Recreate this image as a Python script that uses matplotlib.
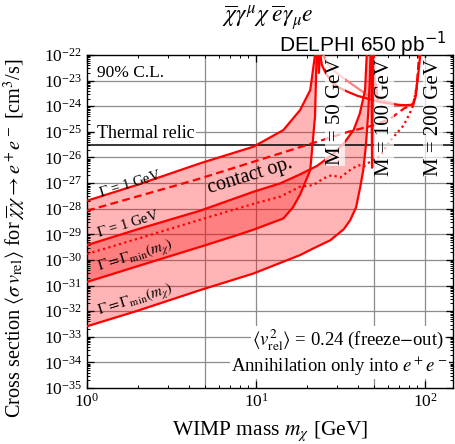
import numpy as np
import matplotlib
matplotlib.use("Agg")
import matplotlib.pyplot as plt

# -----------------------------
#  Limits on <sigma v> (log10 of cm^3/s) vs WIMP mass (GeV)
# -----------------------------
# M = 50 GeV mediator, Gamma = 1 GeV
m50_g1 = [1, 2, 4.66, 9.64, 14.5, 18.2, 20.9, 22.3]
s50_g1 = [-27.69, -27.06, -26.23, -25.58, -24.93, -24.15, -23.37, -22.0]

# M = 50 GeV mediator, Gamma = Gamma_min
m50_gmin = [1, 2, 4.66, 7.5, 9.64, 14.5, 16.5, 18.2, 20.9, 22.3, 22.8]
s50_gmin = [-30.86, -30.24, -29.49, -29.06, -28.82, -28.38, -27.95, -27.45, -26.49, -24.41, -22.0]

# M = 100 GeV mediator, Gamma = 1 GeV
m100_g1 = [1, 2, 4.66, 9.64, 13.9, 18.2, 22.9, 28.6, 33, 37.7, 41, 44.1, 45.1]
s100_g1 = [-29.42, -28.8, -28.08, -27.34, -27.01, -26.66, -26.33, -25.86, -25.45, -24.93, -24.3, -23.37, -22.0]

# M = 100 GeV mediator, Gamma = Gamma_min
m100_gmin = [1, 2, 4.66, 9.64, 18.2, 21.8, 27.5, 33, 36, 39, 41.3, 43, 44.5, 46, 47, 47.5]
s100_gmin = [-32.59, -31.98, -31.18, -30.53, -29.81, -29.55, -29.23, -28.8, -28.45, -27.95, -27.15, -26.5, -25.6, -24.3, -23.0, -22.0]

# contact operator
m_contact = [1, 4.36, 13.9, 23.9, 35, 43, 49.4, 62, 74.5, 85, 89, 92]
s_contact = [-28.08, -26.88, -25.84, -25.35, -25.0, -24.85, -24.75, -24.49, -24.1, -23.9, -23.3, -22.0]

# dotted curve
m_dot = [1, 2, 5, 10, 13.9, 18.2, 21.8, 25, 28, 31.5, 36, 40.2, 43.2, 47.3, 54, 62, 68, 74.5, 80, 85, 89, 93]
s_dot = [-29.77, -29.17, -28.37, -27.78, -27.53, -27.14, -27.08, -26.82, -26.69, -26.78, -26.49, -26.30,
         -26.36, -26.16, -25.95, -25.35, -25.05, -24.75, -24.35, -23.96, -23.2, -22.0]

# above-resonance branches
m_hi_a = [24.0, 24.5, 26, 28, 31, 35.2, 40, 46.2, 54.2, 62, 68, 76, 85, 88, 89.3, 91.5, 93.4]
s_hi_a = [-22.0, -22.4, -22.75, -23.05, -23.28, -23.45, -23.6, -23.71, -23.84, -23.9, -23.94, -23.96,
          -23.94, -23.6, -23.18, -22.6, -22.0]
m_hi_b = [25.0, 26.3, 28.6, 32, 38, 45.3, 54, 62, 68, 76, 85]
s_hi_b = [-22.0, -22.31, -22.59, -22.85, -23.2, -23.55, -23.75, -23.84, -23.94, -24.0, -23.95]

# narrow resonance spikes
m_sp50 = [23.1, 23.5, 23.9]
s_sp50 = [-22.0, -22.7, -22.0]
m_sp100 = [47.9, 48.5, 49.2]
s_sp100 = [-22.0, -26.4, -22.0]
m_r100 = [49.6, 50.6, 51.3, 52.3]
s_r100 = [-22.0, -23.6, -23.15, -23.8]

thermal_relic = 3e-26

RED = "#ff0000"
LW = 1.6

plt.rcParams["font.family"] = ["Liberation Serif", "DejaVu Serif"]
plt.rcParams["mathtext.fontset"] = "stix"


def sv(vals):
    return 10.0 ** np.asarray(vals)


def band(ax, m_up, s_up, m_lo, s_lo):
    xs = np.concatenate([m_up, m_lo[::-1]])
    ys = np.concatenate([sv(s_up), sv(s_lo[::-1])])
    ax.fill(xs, ys, color=RED, alpha=0.29, lw=0, zorder=1)


fig = plt.figure(figsize=(4.56, 4.44), dpi=100)
ax = fig.add_axes([87 / 456, 56 / 444, 366 / 456, 333 / 444])
ax.set_xscale("log")
ax.set_yscale("log")
ax.set_xlim(1, 146)
ax.set_ylim(1e-35, 1e-22)

# bands
band(ax, m50_g1, s50_g1, m50_gmin, s50_gmin)
band(ax, m100_g1, s100_g1, m100_gmin, s100_gmin)

# grid
for gx in [5, 10, 50, 100]:
    ax.axvline(gx, color="#8c8c8c", lw=0.9, zorder=0.5)
for e in range(-34, -22):
    ax.axhline(10.0 ** e, color="#8c8c8c", lw=0.9, zorder=0.5)

ax.axhline(thermal_relic, color="black", lw=1.1, zorder=2)

# curves
for m, s in [(m50_g1, s50_g1), (m50_gmin, s50_gmin), (m100_g1, s100_g1),
             (m100_gmin, s100_gmin), (m_hi_a, s_hi_a), (m_sp50, s_sp50),
             (m_sp100, s_sp100), (m_r100, s_r100)]:
    ax.plot(m, sv(s), color=RED, lw=LW, zorder=3)
ax.plot(m_hi_b, sv(s_hi_b), color="#ff8080", lw=LW, zorder=2.9)
ax.plot(m_contact, sv(s_contact), color=RED, lw=LW, ls=(0, (3.5, 2)), zorder=3)
ax.plot(m_dot, sv(s_dot), color=RED, lw=LW, ls=(0, (1, 1.5)), zorder=3)

# ticks
ax.tick_params(which="both", direction="in", top=True, right=True, labelsize=12.5)
ax.tick_params(which="major", length=5, width=0.9)
ax.tick_params(which="minor", length=2.5, width=0.7)
ax.yaxis.set_major_locator(matplotlib.ticker.LogLocator(base=10, numticks=20))
ax.yaxis.set_minor_locator(matplotlib.ticker.LogLocator(base=10, subs=np.arange(2, 10), numticks=20))
ax.yaxis.set_minor_formatter(matplotlib.ticker.NullFormatter())
for sp in ax.spines.values():
    sp.set_linewidth(1.0)

ax.set_xlabel(r"WIMP mass $m_\chi$ [GeV]", fontsize=15.5)
ax.set_ylabel(r"Cross section $\langle\sigma\, v_{\rm rel}\rangle$ for $\overline{\chi}\chi\rightarrow e^+e^-$ [cm$^3$/s]",
              fontsize=14.6)
ax.xaxis.set_label_coords(0.5, -0.095)
ax.yaxis.set_label_coords(-0.16, 0.45)

# annotations
wbox = dict(facecolor="white", edgecolor="none", pad=1.0)
ax.text(1.14, 10 ** -22.7, "90% C.L.", fontsize=12.5, ha="left", va="center", zorder=4)
ax.text(1.14, 10 ** -25.05, "Thermal relic", fontsize=13, ha="left", va="center", bbox=wbox, zorder=4)
ax.text(9.2, 10 ** -26.73, "contact op.", fontsize=14.5, ha="center", va="center",
        rotation=17, rotation_mode="anchor", zorder=4)
ax.text(1.80, 10 ** -27.04, r"$\Gamma$ = 1 GeV", fontsize=10.5, ha="center", va="center",
        rotation=17, rotation_mode="anchor", zorder=4)
ax.text(1.75, 10 ** -28.6, r"$\Gamma$ = 1 GeV", fontsize=10.5, ha="center", va="center",
        rotation=17, rotation_mode="anchor", zorder=4)
ax.text(1.95, 10 ** -29.85, r"$\Gamma = \Gamma_{\rm min}(m_\chi)$", fontsize=11, ha="center", va="center",
        rotation=17, rotation_mode="anchor", zorder=4)
ax.text(1.95, 10 ** -31.57, r"$\Gamma = \Gamma_{\rm min}(m_\chi)$", fontsize=11, ha="center", va="center",
        rotation=17, rotation_mode="anchor", zorder=4)

mbox = dict(facecolor="white", edgecolor="none", alpha=0.7, pad=0.5)
ax.text(29.3, 10 ** -22.15, "M = 50 GeV", fontsize=15, rotation=90, ha="center", va="top", bbox=mbox, zorder=4)
ax.text(57.2, 10 ** -22.15, "M = 100 GeV", fontsize=15, rotation=90, ha="center", va="top", bbox=mbox, zorder=4)
ax.text(111.5, 10 ** -22.15, "M = 200 GeV", fontsize=15, rotation=90, ha="center", va="top", bbox=mbox, zorder=4)

ax.text(0.975, 0.145, r"$\langle v_{\rm rel}^2\rangle$ = 0.24 (freeze$-$out)", transform=ax.transAxes,
        fontsize=13.5, ha="right", va="center", bbox=wbox, zorder=4)
ax.text(0.985, 0.065, r"Annihilation only into $e^+e^-$", transform=ax.transAxes,
        fontsize=13.5, ha="right", va="center", bbox=wbox, zorder=4)

fig.text(268 / 456, 1 - 18 / 444, r"$\overline{\chi}\gamma^\mu\chi\;\overline{e}\gamma_\mu e$",
         fontsize=17, ha="center", va="center")
fig.text(446 / 456, 1 - 44 / 444, r"DELPHI 650 pb$^{-1}$", fontsize=15, ha="right", va="center",
         family=["Liberation Sans", "DejaVu Sans"], math_fontfamily="dejavusans")

fig.savefig("out.png", dpi=100)
